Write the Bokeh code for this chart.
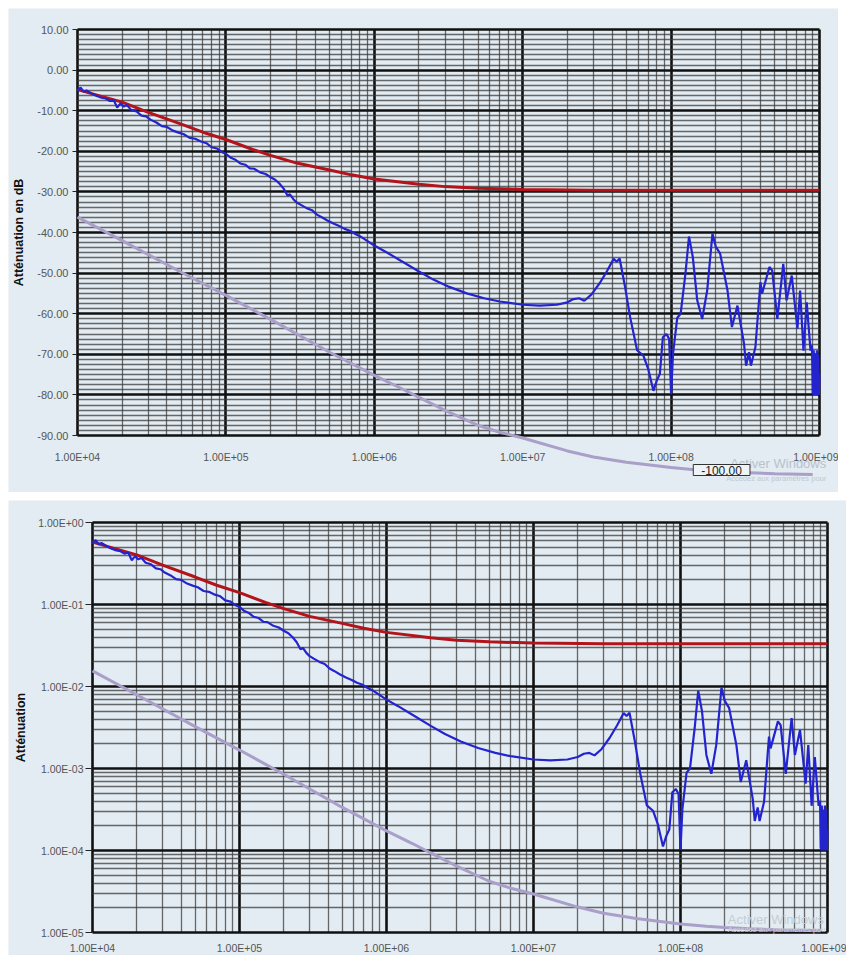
from bokeh.plotting import figure
from bokeh.layouts import column
from bokeh.models import FixedTicker, Range1d, Label
from bokeh.embed import file_html
from bokeh.resources import INLINE

# ---------------- data (attenuation in dB) ----------------
freq_red = [1e4, 2e4, 3e4, 5e4, 7e4, 1e5, 1.5e5, 2e5, 3e5, 5e5, 7e5, 1e6, 2e6, 3e6,
            5e6, 1e7, 3e7, 1e8, 1e9]
red_db = [-4.8, -7.9, -10.4, -13.3, -15.3, -17.1, -19.5, -21.0, -22.9, -24.6, -25.8,
          -26.8, -28.1, -28.7, -29.1, -29.4, -29.6, -29.6, -29.6]

freq_blue = [
    1.00e4, 1.05e4, 1.10e4, 1.15e4, 1.25e4, 1.35e4, 1.45e4, 1.55e4, 1.65e4, 1.75e4,
    1.85e4, 1.95e4, 2.05e4, 2.15e4, 2.3e4, 2.5e4, 2.7e4, 2.9e4, 3.1e4, 3.4e4,
    3.7e4, 4.0e4, 4.4e4, 4.8e4, 5.2e4, 5.7e4, 6.2e4, 6.8e4, 7.4e4, 8.0e4,
    8.7e4, 9.4e4, 1.0e5, 1.08e5, 1.15e5, 1.25e5, 1.35e5, 1.45e5, 1.55e5, 1.7e5,
    1.85e5, 2.0e5, 2.15e5, 2.3e5, 2.45e5, 2.6e5, 2.7e5, 2.85e5, 3.0e5, 3.2e5,
    3.5e5, 3.8e5, 4.1e5, 4.4e5, 4.8e5, 5.3e5, 5.8e5, 6.3e5, 6.8e5, 7.4e5,
    8.0e5, 8.9e5, 1.0e6,
    1.2e6, 1.5e6, 2.0e6, 2.5e6, 3.2e6, 4.2e6, 5.5e6, 7.0e6, 1.0e7, 1.3e7,
    1.7e7, 2.0e7, 2.2e7, 2.4e7, 2.6e7, 2.9e7, 3.3e7, 3.7e7, 4.1e7, 4.3e7,
    4.5e7, 4.9e7, 5.3e7, 5.9e7, 6.5e7, 7.0e7, 7.6e7, 8.0e7, 8.4e7, 8.8e7,
    9.3e7, 9.7e7, 1.0e8, 1.03e8, 1.1e8, 1.16e8, 1.25e8, 1.32e8, 1.4e8, 1.5e8,
    1.62e8, 1.75e8, 1.9e8, 2.0e8, 2.14e8, 2.4e8, 2.57e8, 2.8e8, 3.1e8, 3.2e8,
    3.35e8, 3.45e8, 3.7e8, 4.0e8, 4.1e8, 4.6e8, 4.8e8, 5.2e8, 5.7e8, 6.0e8,
    6.5e8, 7.1e8, 7.4e8, 7.8e8, 8.2e8, 8.7e8, 8.9e8, 9.0e8, 9.05e8, 9.1e8,
    9.15e8, 9.2e8, 9.3e8, 9.35e8, 9.45e8, 9.5e8, 9.6e8, 9.7e8, 9.8e8, 9.9e8,
    1.0e9]
blue_db = [
    -5.0, -4.3, -5.3, -5.0, -5.8, -6.4, -6.8, -7.0, -7.6, -7.3,
    -9.2, -8.2, -9.0, -8.6, -9.8, -10.2, -11.2, -11.4, -12.2, -12.9,
    -13.8, -14.0, -14.9, -15.4, -15.8, -16.7, -16.9, -17.6, -18.0, -19.0,
    -19.3, -20.2, -20.6, -21.6, -22.0, -23.0, -23.3, -24.2, -24.3, -25.2,
    -25.6, -26.4, -27.0, -28.0, -29.2, -30.9, -30.6, -31.8, -32.6, -33.2,
    -34.0, -34.5, -35.6, -36.2, -37.0, -37.8, -38.4, -39.1, -39.5, -40.3,
    -40.9, -42.0, -43.2,
    -44.8, -46.9, -49.6, -51.6, -53.4, -55.0, -56.2, -57.0, -57.8, -58.0,
    -57.8, -57.2, -56.4, -56.2, -56.8, -55.3, -52.5, -49.5, -46.5, -47.2,
    -46.4, -53.5, -60.9, -69.0, -70.3, -73.5, -79.0, -76.5, -74.8, -65.8,
    -65.0, -66.2, -79.8, -69.9, -61.0, -60.0, -50.0, -41.0, -46.0, -56.7,
    -61.3, -54.3, -40.3, -43.5, -45.2, -54.3, -63.3, -58.0, -67.4, -72.8,
    -69.5, -72.8, -68.2, -52.2, -55.1, -48.5, -49.4, -61.3, -47.7, -56.7,
    -50.6, -63.7, -54.3, -69.1, -57.2, -69.1, -67.8, -79.5, -70.0, -80.0,
    -69.0, -80.0, -70.0, -80.0, -72.0, -80.0, -69.0, -80.0, -70.0, -80.0,
    -75.0]
assert len(freq_blue) == len(blue_db)

freq_lav = [1e4, 2e4, 5e4, 1e5, 2e5, 5e5, 1e6, 1.5e6, 2e6, 3e6, 5e6, 7e6, 1e7,
            2e7, 3e7, 5e7, 1e8, 1.5e8, 2e8, 3e8, 5e8, 9e8]
lav_db = [-36.2, -42.0, -49.8, -55.5, -61.4, -69.5, -75.2, -78.3, -80.6, -83.8,
          -87.5, -89.2, -90.6, -93.8, -95.3, -96.6, -97.9, -98.5, -98.8, -99.1,
          -99.4, -99.6]

# linear attenuation for the lower chart (unit conversion of the same readings)
red_lin = [10 ** (v / 20.0) for v in red_db]
blue_lin = [10 ** (v / 20.0) for v in blue_db]
lav_lin = [10 ** (v / 20.0) for v in lav_db]

# ---------------- ticks ----------------
x_ticks = [1e4, 1e5, 1e6, 1e7, 1e8, 1e9]
x_tick_labels = ["1.00E+04", "1.00E+05", "1.00E+06", "1.00E+07", "1.00E+08", "1.00E+09"]
db_ticks = [10, 0, -10, -20, -30, -40, -50, -60, -70, -80, -90]
db_tick_labels = ["10.00", "0.00", "-10.00", "-20.00", "-30.00", "-40.00", "-50.00",
                  "-60.00", "-70.00", "-80.00", "-90.00"]
lin_ticks = [1.0, 1e-1, 1e-2, 1e-3, 1e-4, 1e-5]
lin_tick_labels = ["1.00E+00", "1.00E-01", "1.00E-02", "1.00E-03", "1.00E-04", "1.00E-05"]

x_minor = [k * 10.0 ** n for n in range(4, 9) for k in range(2, 10)]
lin_minor = [k * 10.0 ** n for n in range(-5, 0) for k in range(2, 10)]
db_minor = [-90 + 1.25 * i for i in range(81) if i % 8 != 0]

# ---------------- styles / geometry ----------------
SLIDE_BG = "#e3ecf2"
RED = "#b3141b"
BLUE = "#2424cf"
LAV = "#a99fc9"
FONT = "Liberation Sans"
TICK_COL = "#555555"

# top chart: 830x484 px; plot area 69..811 (x) and 21..427 (y) in figure pixels
W1, H1 = 830, 484
T_L, T_R, T_T, T_B = 69, 811, 21, 427
# bottom chart: 838x455 px; plot area 84..819 (x) and 22..432 (y)
W2, H2 = 838, 455
B_L, B_R, B_T, B_B = 84, 819, 22, 432


def log_range(lo_dec, hi_dec, px_lo, px_hi, total):
    per = (hi_dec - lo_dec) / (px_hi - px_lo)
    return 10 ** (lo_dec - px_lo * per), 10 ** (hi_dec + (total - px_hi) * per)


def style_grid(p):
    for g in (p.xgrid, p.ygrid):
        g.grid_line_color = "#111111"
        g.grid_line_width = 2.6
        g.minor_grid_line_color = "#3a3a3a"
        g.minor_grid_line_alpha = 0.75
        g.minor_grid_line_width = 1.3


def style_axes(p):
    for ax in (p.xaxis[0], p.yaxis[0]):
        ax.axis_line_color = None
        ax.minor_tick_line_color = None
        ax.major_label_text_font = FONT
        ax.major_label_text_color = TICK_COL
        ax.major_label_text_font_size = "10.5px"
        ax.axis_label_text_font = FONT
        ax.axis_label_text_font_style = "bold"
        ax.axis_label_text_color = "#111111"
        ax.axis_label_text_font_size = "12.5px"


# ---------------- top chart (dB) ----------------
x1 = log_range(4, 9, T_L, T_R, W1)
per_db = 100.0 / (T_B - T_T)
y1 = (-90 - (H1 - T_B) * per_db, 10 + T_T * per_db)

p1 = figure(width=W1, height=H1, x_axis_type="log",
            x_range=Range1d(*x1), y_range=Range1d(*y1),
            output_backend="svg", toolbar_location=None, min_border=0,
            background_fill_color=SLIDE_BG, border_fill_color=SLIDE_BG,
            outline_line_color=None)
p1.xaxis.ticker = FixedTicker(ticks=x_ticks, minor_ticks=x_minor)
p1.yaxis.ticker = FixedTicker(ticks=db_ticks, minor_ticks=db_minor)
p1.xaxis.fixed_location = -90
p1.yaxis.fixed_location = 1e4
p1.xaxis.bounds = (1e4, 1e9)
p1.yaxis.bounds = (-90, 10)
p1.xaxis.major_label_overrides = dict(zip(x_ticks, x_tick_labels))
p1.yaxis.major_label_overrides = dict(zip([float(t) for t in db_ticks], db_tick_labels))
style_axes(p1)
style_grid(p1)
p1.xgrid.cross_bounds = (-90, 10)
p1.ygrid.cross_bounds = (1e4, 1e9)
p1.xaxis.major_tick_line_color = None
p1.xaxis.major_tick_out = 0
p1.xaxis.major_tick_in = 0
p1.xaxis.major_label_standoff = 11
p1.yaxis.major_label_text_font_size = "11px"
p1.yaxis.major_tick_line_color = "#222222"
p1.yaxis.major_tick_out = 5
p1.yaxis.major_tick_in = 0
p1.yaxis.major_label_standoff = 4
p1.yaxis.axis_label = "Atténuation en dB"
p1.yaxis.axis_label_standoff = 8

p1.line(freq_lav, lav_db, line_color=LAV, line_width=3)
p1.line(freq_red, red_db, line_color=RED, line_width=3)
p1.line(freq_blue, blue_db, line_color=BLUE, line_width=2.2)

p1.add_layout(Label(x=2.5e8, y=-96.9, text="Activer Windows", text_font=FONT,
                    text_font_size="13px", text_color="#b8c2cb", text_baseline="middle"))
p1.add_layout(Label(x=2.35e8, y=-100.7, text="Accédez aux paramètres pour", text_font=FONT,
                    text_font_size="7.5px", text_color="#bfc8d0", text_baseline="middle"))
p1.add_layout(Label(x=2.19e8, y=-98.5, text="-100.00", text_font=FONT,
                    text_font_size="12px", text_color="#222222", text_align="center",
                    text_baseline="middle", border_line_color="#333333",
                    border_line_width=1, background_fill_color="#eef3f6",
                    padding=(8, 1)))

# ---------------- bottom chart (linear attenuation, log axis) ----------------
x2 = log_range(4, 9, B_L, B_R, W2)
per_dec = 5.0 / (B_B - B_T)
y2 = (10 ** (-5 - (H2 - B_B) * per_dec), 10 ** (0 + B_T * per_dec))

p2 = figure(width=W2, height=H2, x_axis_type="log", y_axis_type="log",
            x_range=Range1d(*x2), y_range=Range1d(*y2),
            output_backend="svg", toolbar_location=None, min_border=0,
            background_fill_color=SLIDE_BG, border_fill_color=SLIDE_BG,
            outline_line_color=None)
p2.xaxis.ticker = FixedTicker(ticks=x_ticks, minor_ticks=x_minor)
p2.yaxis.ticker = FixedTicker(ticks=lin_ticks, minor_ticks=lin_minor)
p2.xaxis.fixed_location = 1e-5
p2.yaxis.fixed_location = 1e4
p2.xaxis.bounds = (1e4, 1e9)
p2.yaxis.bounds = (1e-5, 1.0)
p2.xaxis.major_label_overrides = dict(zip(x_ticks, x_tick_labels))
p2.yaxis.major_label_overrides = dict(zip(lin_ticks, lin_tick_labels))
style_axes(p2)
style_grid(p2)
p2.xgrid.cross_bounds = (1e-5, 1.0)
p2.ygrid.cross_bounds = (1e4, 1e9)
p2.xaxis.major_tick_line_color = None
p2.xaxis.major_tick_out = 0
p2.xaxis.major_tick_in = 0
p2.xaxis.major_label_standoff = 5
p2.yaxis.major_tick_line_color = "#222222"
p2.yaxis.major_tick_out = 7
p2.yaxis.major_tick_in = 0
p2.yaxis.major_label_standoff = 2
p2.yaxis.axis_label = "Atténuation"
p2.yaxis.axis_label_standoff = 7

p2.line(freq_lav, lav_lin, line_color=LAV, line_width=3)
p2.line(freq_red, red_lin, line_color=RED, line_width=3)
p2.line(freq_blue, blue_lin, line_color=BLUE, line_width=2.2)

p2.add_layout(Label(x=2.1e8, y=1.45e-5, text="Activer Windows", text_font=FONT,
                    text_font_size="13px", text_color="#c3ccd4", text_baseline="middle"))
p2.add_layout(Label(x=2.1e8, y=1.08e-5, text="Accédez aux paramètres pou", text_font=FONT,
                    text_font_size="7.5px", text_color="#c7d0d7", text_baseline="middle"))

layout = column(p1, p2, spacing=8, margin=(8, 0, 0, 8))
open("out.html", "w").write(file_html(layout, INLINE))
